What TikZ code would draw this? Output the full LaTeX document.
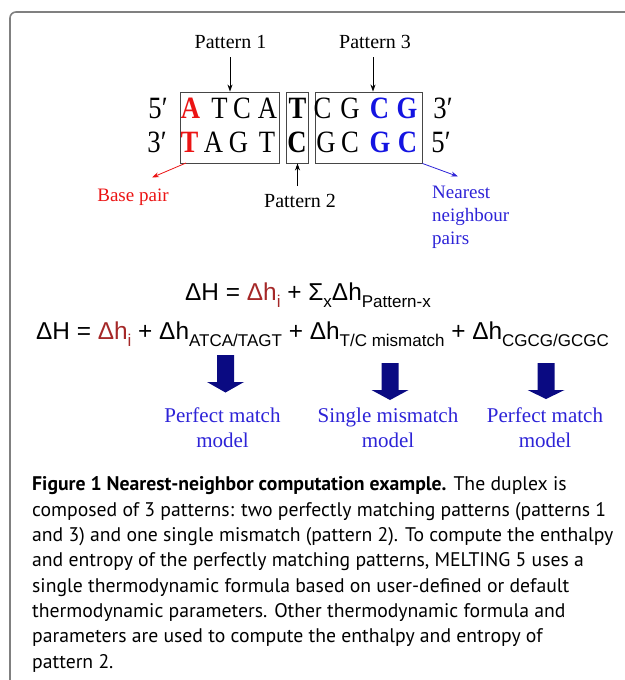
\documentclass[tikz,border=0pt]{standalone}
\usepackage{fontspec}
\setmainfont{Liberation Serif}
\newfontfamily\nucf[FakeStretch=0.86]{Liberation Serif}
\newfontfamily\arialf{Liberation Sans}
\newfontfamily\capf{PT Sans}
\usetikzlibrary{arrows.meta}
\definecolor{basered}{RGB}{235,20,20}
\definecolor{nnblue}{RGB}{20,20,225}
\definecolor{lblblue}{RGB}{45,35,215}
\definecolor{hired}{RGB}{165,40,40}
\definecolor{navyarrow}{RGB}{10,10,130}
\definecolor{framegray}{RGB}{128,128,128}
\definecolor{boxgray}{RGB}{70,70,70}
\newcommand{\sbx}[1]{\raisebox{-0.3em}{\fontsize{17}{17}\selectfont #1}}
\tikzset{
  nuc/.style={font=\nucf\fontsize{31}{31}\selectfont, anchor=base, inner sep=0pt},
  nucb/.style={font=\nucf\fontsize{31}{31}\selectfont\bfseries, anchor=base, inner sep=0pt},
  patbox/.style={draw=boxgray, line width=0.9pt, inner sep=0pt, minimum height=71pt},
  lbl/.style={font=\fontsize{20}{24}\selectfont, anchor=base, inner sep=0pt},
  modlbl/.style={font=\fontsize{21}{24.5}\selectfont, text=lblblue, align=center, anchor=base, inner sep=0pt},
  formula/.style={font=\arialf\fontsize{24.4}{26}\selectfont, anchor=base, inner sep=0pt},
  bigarrow/.style={fill=navyarrow, draw=none},
  thinarrow/.style={-{Stealth[length=7pt,width=5pt]}, line width=0.8pt}
}
\begin{document}
\begin{tikzpicture}[x=1pt,y=-1pt]
\useasboundingbox (0,0) rectangle (624,680);
% frame
\draw[framegray, line width=1.6pt, rounded corners=6pt] (10,700) -- (10,12) -- (650,12);

% boxes
\node[patbox, minimum width=99pt] (box1) at (229.5,127.5) {};
\node[patbox, minimum width=22pt] (box2) at (297,127.5) {};
\node[patbox, minimum width=107pt] (box3) at (368.5,127.5) {};

% strand ends
\node[nuc] (e1) at (158,118) {5′};
\node[nuc] (e2) at (443,118) {3′};
\node[nuc] (e3) at (157,152) {3′};
\node[nuc] (e4) at (441,152) {5′};

% row 1
\node[nucb, text=basered] (a1) at (190.5,118) {A};
\node[nuc] (a2) at (219.5,118) {T};
\node[nuc] (a3) at (242,118) {C};
\node[nuc] (a4) at (267.5,118) {A};
\node[nucb] (a5) at (297.5,118) {T};
\node[nuc] (a6) at (322.5,118) {C};
\node[nuc] (a7) at (350,118) {G};
\node[nucb, text=nnblue] (a8) at (379.5,118) {C};
\node[nucb, text=nnblue] (a9) at (407,118) {G};
% row 2
\node[nucb, text=basered] (b1) at (189.5,152) {T};
\node[nuc] (b2) at (213.5,152) {A};
\node[nuc] (b3) at (238.5,152) {G};
\node[nuc] (b4) at (267,152) {T};
\node[nucb] (b5) at (297,152) {C};
\node[nuc] (b6) at (326,152) {G};
\node[nuc] (b7) at (350,152) {C};
\node[nucb, text=nnblue] (b8) at (380,152) {G};
\node[nucb, text=nnblue] (b9) at (407.5,152) {C};

% pattern labels
\node[lbl] (p1) at (230.5,48) {Pattern \oldstylenums{1}};
\node[lbl] (p3) at (375,48) {Pattern \oldstylenums{3}};
\node[lbl] (p2) at (300,207) {Pattern 2};
\coordinate (p1s) at (230,57);
\coordinate (p3s) at (373,57);
\coordinate (p2s) at (297.5,186);
\draw[thinarrow] (p1s) -- (p1s |- box1.north);
\draw[thinarrow] (p3s) -- (p3s |- box3.north);
\draw[thinarrow] (p2s) -- (p2s |- box2.south);

% base pair
\node[lbl, text=basered, font=\fontsize{19}{24}\selectfont] (bp) at (133,201) {Base pair};
\coordinate (bps) at (186,163);
\coordinate (bpe) at (152,177.5);
\draw[thinarrow, basered] (bps) -- (bpe);

% nearest neighbour pairs
\node[font=\fontsize{19}{23}\selectfont, text=lblblue, align=left, anchor=north west, inner sep=0pt] (nn) at (432,186) {Nearest\\neighbour\\pairs};
\coordinate (nns) at (box3.south east);
\coordinate (nne) at (458,176.5);
\draw[thinarrow, lblblue] (nns) -- (nne);

% formulas
\node[formula] (f1) at (308,300) {ΔH = \textcolor{hired}{Δh\sbx{i}} + Σ\sbx{x}Δh\sbx{Pattern-x}};
\node[formula] (f2) at (322.5,339) {ΔH = \textcolor{hired}{Δh\sbx{i}} + Δh\sbx{ATCA/TAGT} + Δh\sbx{T/C mismatch} + Δh\sbx{CGCG/GCGC}};

% big arrows
\foreach \n/\cx/\ty/\hy/\tipy in {1/225.5/355/382/392.5, 2/390/363/390/400, 3/546/363/390/399}{
  \fill[bigarrow] (\cx-8.5,\ty) -- (\cx+8.5,\ty) -- (\cx+8.5,\hy) -- (\cx+18.5,\hy) -- (\cx,\tipy) -- (\cx-18.5,\hy) -- (\cx-8.5,\hy) -- cycle;
  \coordinate (arrowtip\n) at (\cx,\tipy);
}

% model labels (anchor = baseline of last line)
\node[modlbl] (m1) at (222.5,447) {Perfect match\\model};
\node[modlbl] (m2) at (388,447) {Single mismatch\\model};
\node[modlbl] (m3) at (545,447) {Perfect match\\model};

% caption (anchor = baseline of last line)
\node[font=\capf\fontsize{19.7}{25.3}\selectfont, align=left, anchor=base west, inner sep=0pt] (cap) at (32,668) {%
\textbf{Figure 1 Nearest-neighbor computation example.} The duplex is\\
composed of 3 patterns: two perfectly matching patterns (patterns 1\\
and 3) and one single mismatch (pattern 2). To compute the enthalpy\\
and entropy of the perfectly matching patterns, MELTING 5 uses a\\
single thermodynamic formula based on user-defined or default\\
thermodynamic parameters. Other thermodynamic formula and\\
parameters are used to compute the enthalpy and entropy of\\
pattern 2.};
\end{tikzpicture}
\end{document}
